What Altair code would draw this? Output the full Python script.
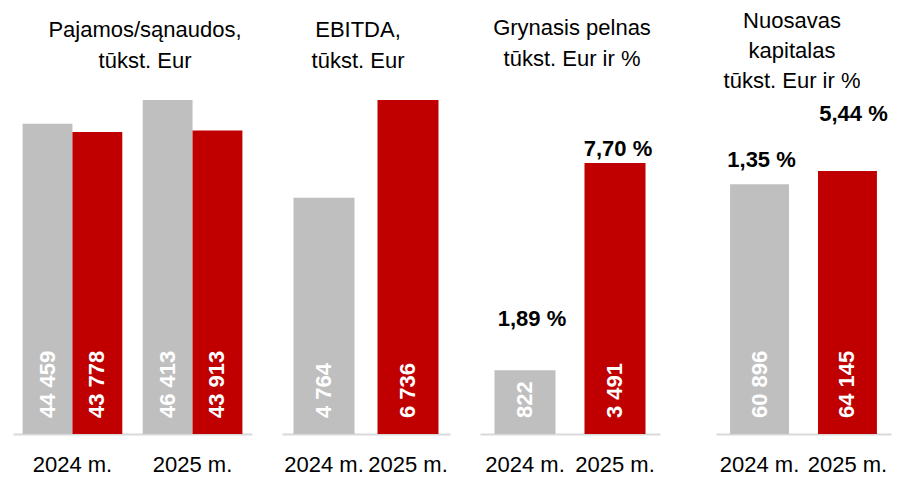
import altair as alt
import pandas as pd

FONT = "Liberation Sans, Arial, sans-serif"
GREY = "#BFBFBF"
RED = "#C00000"
AXIS_GREY = "#D9D9D9"
FS = 22

# ---- data ----
years = ["2024 m.", "2025 m."]
rev_series = ["Pajamos", "Sąnaudos"]
revenue = [44459, 46413]
costs = [43778, 43913]
ebitda = [4764, 6736]
net_profit = [822, 3491]
net_margin = ["1,89 %", "7,70 %"]
equity = [60896, 64145]
roe = ["1,35 %", "5,44 %"]

titles = [
    ["Pajamos/sąnaudos,", "tūkst. Eur"],
    ["EBITDA,", "tūkst. Eur"],
    ["Grynasis pelnas", "tūkst. Eur ir %"],
    ["Nuosavas", "kapitalas", "tūkst. Eur ir %"],
]


def fmt(v):
    return f"{v:,}".replace(",", " ")


H = 426


def x_enc(pi, po):
    return alt.X(
        "year:N",
        sort=years,
        scale=alt.Scale(domain=years, paddingInner=pi, paddingOuter=po),
        axis=alt.Axis(
            title=None, labelAngle=0, ticks=False, grid=False,
            domainColor=AXIS_GREY, domainWidth=2,
            labelPadding=20, labelFontSize=FS, labelFont=FONT,
            labelColor="#000000",
        ),
    )


def title_layers(lines, xs, baselines):
    out = []
    for line, x, b in zip(lines, xs, baselines):
        out.append(
            alt.Chart(pd.DataFrame({"t": [line]}))
            .mark_text(font=FONT, fontSize=FS, color="#000000",
                       align="center", baseline="alphabetic")
            .encode(text="t:N", x=alt.value(x), y=alt.value(b - 8))
        )
    return out


def value_label(df, x, base, extra=None):
    enc = dict(x=x, y=alt.datum(base), text="label:N")
    if extra:
        enc.update(extra)
    return (
        alt.Chart(df)
        .mark_text(angle=270, align="left", baseline="middle", dx=16,
                   font=FONT, fontSize=FS, fontWeight="bold", color="white")
        .encode(**enc)
    )


def pct_label(year, value, text, x, dx, dy):
    d = pd.DataFrame({"year": [year], "value": [value], "t": [text]})
    return (
        alt.Chart(d)
        .mark_text(font=FONT, fontSize=FS, fontWeight="bold", color="#000000",
                   align="center", baseline="alphabetic", dx=dx, dy=dy)
        .encode(x=x, y=alt.Y("value:Q"), text="t:N")
    )


# ---- panel 1 ----
df1 = pd.DataFrame({
    "year": years * 2,
    "series": [rev_series[0]] * 2 + [rev_series[1]] * 2,
    "value": revenue + costs,
})
df1["label"] = df1["value"].map(fmt)
x1 = x_enc(0.17, 0.08)
xo1 = alt.XOffset("series:N", sort=rev_series,
                  scale=alt.Scale(domain=rev_series, paddingInner=0, paddingOuter=0))
y1 = alt.Y("value:Q", stack=None,
           scale=alt.Scale(domain=[19000, 53964], zero=False, nice=False), axis=None)
bars1 = alt.Chart(df1).mark_bar().encode(
    x=x1, xOffset=xo1, y=y1,
    color=alt.Color("series:N", scale=alt.Scale(domain=rev_series, range=[GREY, RED]), legend=None),
)
lab1 = value_label(df1, x1, 19000, {"xOffset": xo1})
p1 = alt.layer(bars1, lab1, *title_layers(titles[0], [132, 132], [37, 68])).properties(width=239, height=H)


def simple_panel(values, pi, po, dmax, w, title_lines, tx, tb, extra_layers_fn=None):
    df = pd.DataFrame({"year": years, "value": values})
    df["label"] = df["value"].map(fmt)
    x = x_enc(pi, po)
    y = alt.Y("value:Q", scale=alt.Scale(domain=[0, dmax], nice=False), axis=None)
    bars = alt.Chart(df).mark_bar().encode(
        x=x, y=y,
        color=alt.Color("year:N", scale=alt.Scale(domain=years, range=[GREY, RED]), legend=None),
    )
    layers = [bars, value_label(df, x, 0)]
    if extra_layers_fn:
        layers += extra_layers_fn(x)
    layers += title_layers(title_lines, [tx] * len(title_lines), tb)
    return alt.layer(*layers).properties(width=w, height=H)


p2 = simple_panel(ebitda, 0.274, 0.137, 8591, 168, titles[1], 76, [37, 68])
p3 = simple_panel(
    net_profit, 0.322, 0.161, 5488, 180, titles[2], 92, [35, 66],
    lambda x: [pct_label(years[0], net_profit[0], net_margin[0], x, 7, -44),
               pct_label(years[1], net_profit[1], net_margin[1], x, 3, -7)],
)
p4 = simple_panel(
    equity, 0.33, 0.16, 103900, 175, titles[3], 76, [28, 58, 88],
    lambda x: [pct_label(years[0], equity[0], roe[0], x, 2, -17),
               pct_label(years[1], equity[1], roe[1], x, 6, -50)],
)

inner = alt.hconcat(p1, p2, p3, spacing=30).resolve_scale(
    x="independent", y="independent", color="independent")
chart = (
    alt.hconcat(inner, p4, spacing=56)
    .resolve_scale(x="independent", y="independent", color="independent")
    .properties(padding={"left": 5, "top": 0, "right": 5, "bottom": 0}, background="white")
    .configure_view(stroke=None)
)

chart.save("out.html", embed_options={"renderer": "svg", "actions": False})
